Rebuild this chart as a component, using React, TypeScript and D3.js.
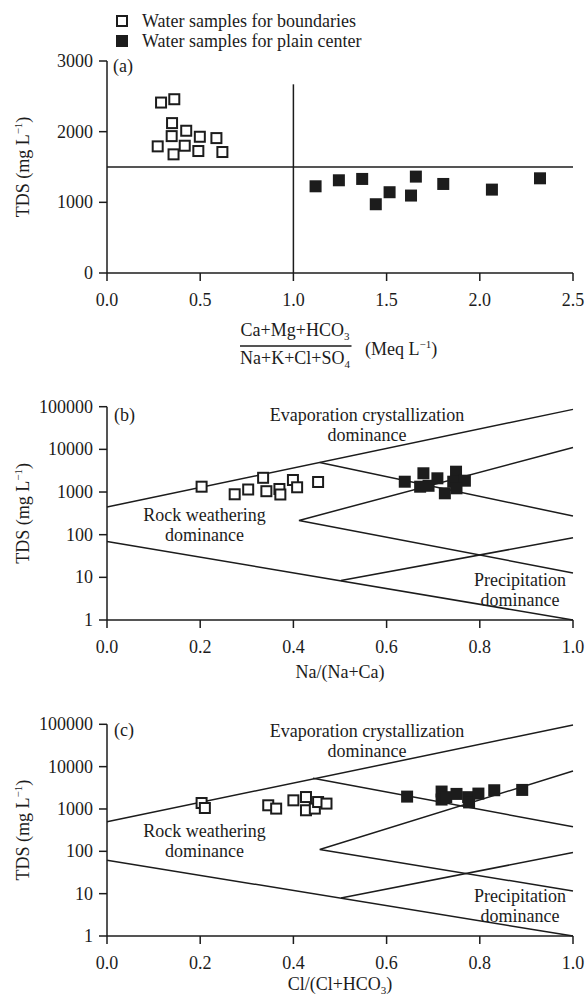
import React from "react";
import * as d3 from "d3";

// ---------- data ----------
const legendLabels = ["Water samples for boundaries", "Water samples for plain center"];

// Panel (a)
const aXTicks = [0, 0.5, 1.0, 1.5, 2.0, 2.5];
const aYTicks = [0, 1000, 2000, 3000];
const aBoundX = [0.29, 0.361, 0.349, 0.425, 0.347, 0.498, 0.587, 0.272, 0.417, 0.357, 0.49, 0.619];
const aBoundY = [2412, 2459, 2121, 2013, 1937, 1928, 1909, 1792, 1801, 1679, 1726, 1712];
const aCenterX = [1.119, 1.244, 1.369, 1.442, 1.516, 1.631, 1.657, 1.804, 2.065, 2.323];
const aCenterY = [1227, 1312, 1331, 973, 1143, 1096, 1364, 1260, 1180, 1340];
const aVertical = [[1.0, 0], [1.0, 2670]];
const aHorizontal = [[0, 1500], [2.5, 1500]];

// Gibbs panels
const logTicks = [1, 10, 100, 1000, 10000, 100000];
const gibbsXTicks = [0, 0.2, 0.4, 0.6, 0.8, 1.0];

// Panel (b)
const bBoundX = [0.203, 0.274, 0.303, 0.335, 0.342, 0.37, 0.372, 0.399, 0.408, 0.453];
const bBoundY = [1333, 885, 1145, 2155, 1045, 1178, 875, 1914, 1291, 1718];
const bCenterX = [0.639, 0.679, 0.672, 0.69, 0.709, 0.725, 0.749, 0.743, 0.768, 0.75];
const bCenterY = [1745, 2750, 1333, 1400, 2096, 933, 2995, 1745, 1843, 1222];
const bLines = [
  [[0, 446], [1, 86500]],
  [[0.4565, 4910], [1, 274]],
  [[1, 11070], [0.412, 216], [1, 12.7]],
  [[0, 69.5], [1, 1]],
  [[0.502, 8.4], [1, 84.7]],
];

// Panel (c)
const cBoundX = [0.203, 0.21, 0.346, 0.363, 0.4, 0.427, 0.427, 0.446, 0.453, 0.471];
const cBoundY = [1383, 1055, 1222, 1021, 1600, 1914, 932, 1021, 1459, 1340];
const cCenterX = [0.644, 0.718, 0.718, 0.728, 0.75, 0.775, 0.777, 0.797, 0.831, 0.891];
const cCenterY = [1960, 2580, 1670, 1900, 2270, 1900, 1430, 2310, 2770, 2820];
const cLines = [
  [[0, 498], [1, 96400]],
  [[0.442, 5300], [1, 379]],
  [[1, 7870], [0.4565, 110], [1, 11.6]],
  [[0, 61.7], [1, 1]],
  [[0.502, 7.9], [1, 93.7]],
];

// ---------- layout ----------
const W = 587;
const H = 997;
const X0 = 107;
const X1 = 573;
const INK = "#1c1c1c";
const FONT = "'Liberation Serif', 'Times New Roman', serif";
const FS = 18;
const SUB = 11;
const SQ = 12;

const xA = d3.scaleLinear().domain([0, 2.5]).range([X0, X1]);
const yA = d3.scaleLinear().domain([0, 3000]).range([273, 61]);
const xG = d3.scaleLinear().domain([0, 1]).range([X0, X1]);
const yB = d3.scaleLog().domain([1, 100000]).range([620, 406.7]);
const yC = d3.scaleLog().domain([1, 100000]).range([936, 724.3]);

const fmt1 = d3.format(".1f");
const fmt0 = d3.format("d");

function Axes({ x, y, xTicks, yTicks, xFmt, yFmt }) {
  const [yb, yt] = y.range();
  return (
    <g stroke={INK} strokeWidth={1.5}>
      <line x1={X0} x2={X0} y1={yt} y2={yb} />
      <line x1={X0} x2={X1} y1={yb} y2={yb} />
      {yTicks.map((t) => (
        <g key={"y" + t}>
          <line x1={X0 - 8} x2={X0} y1={y(t)} y2={y(t)} />
          <text x={X0 - 14} y={y(t) + 6} textAnchor="end" stroke="none" fill={INK} fontSize={FS}>
            {yFmt(t)}
          </text>
        </g>
      ))}
      {xTicks.map((t) => (
        <g key={"x" + t}>
          <line x1={x(t)} x2={x(t)} y1={yb} y2={yb + 8} />
          <text x={x(t)} y={yb + 33} textAnchor="middle" stroke="none" fill={INK} fontSize={FS}>
            {xFmt(t)}
          </text>
        </g>
      ))}
    </g>
  );
}

function YTitle({ y }) {
  const [yb, yt] = y.range();
  const cy = (yb + yt) / 2;
  return (
    <text transform={`translate(28.5,${cy}) rotate(-90)`} textAnchor="middle" fill={INK} fontSize={FS}>
      TDS (mg L
      <tspan fontSize={SUB} dy={-7}>−1</tspan>
      <tspan dy={7}>)</tspan>
    </text>
  );
}

function Points({ xs, ys, x, y, filled }) {
  return (
    <g>
      {xs.map((v, i) =>
        filled ? (
          <rect key={i} x={x(v) - SQ / 2} y={y(ys[i]) - SQ / 2} width={SQ} height={SQ} fill={INK} />
        ) : (
          <rect
            key={i}
            x={x(v) - (SQ - 2) / 2}
            y={y(ys[i]) - (SQ - 2) / 2}
            width={SQ - 2}
            height={SQ - 2}
            fill="#fff"
            stroke={INK}
            strokeWidth={2}
          />
        )
      )}
    </g>
  );
}

function Envelope({ lines, x, y }) {
  const gen = d3
    .line()
    .x((d) => x(d[0]))
    .y((d) => y(d[1]));
  return (
    <g fill="none" stroke={INK} strokeWidth={1.5}>
      {lines.map((l, i) => (
        <path key={i} d={gen(l)} />
      ))}
    </g>
  );
}

function Regions({ top }) {
  return (
    <g fill={INK} fontSize={FS} textAnchor="middle">
      <text x={367} y={top}>Evaporation crystallization</text>
      <text x={367} y={top + 20}>dominance</text>
      <text x={204.5} y={top + 100}>Rock weathering</text>
      <text x={204.5} y={top + 120}>dominance</text>
      <text x={520} y={top + 165}>Precipitation</text>
      <text x={520} y={top + 185}>dominance</text>
    </g>
  );
}

export default function App() {
  return (
    <svg
      width={W}
      height={H}
      viewBox={`0 0 ${W} ${H}`}
      style={{ position: "absolute", left: 0, top: 0, background: "#fff" }}
      fontFamily={FONT}
    >
      {/* legend */}
      <g>
        <rect x={122 - 5} y={21 - 5} width={10} height={10} fill="#fff" stroke={INK} strokeWidth={2} />
        <text x={142} y={27} fill={INK} fontSize={FS}>{legendLabels[0]}</text>
        <rect x={122 - 6} y={41 - 6} width={12} height={12} fill={INK} />
        <text x={142} y={47} fill={INK} fontSize={FS}>{legendLabels[1]}</text>
      </g>

      {/* panel a */}
      <Envelope lines={[aVertical, aHorizontal]} x={xA} y={yA} />
      <Axes x={xA} y={yA} xTicks={aXTicks} yTicks={aYTicks} xFmt={fmt1} yFmt={fmt0} />
      <YTitle y={yA} />
      <text x={113} y={72} fill={INK} fontSize={FS}>(a)</text>
      <Points xs={aBoundX} ys={aBoundY} x={xA} y={yA} filled={false} />
      <Points xs={aCenterX} ys={aCenterY} x={xA} y={yA} filled={true} />
      <g fill={INK} fontSize={FS}>
        <text x={295} y={336} textAnchor="middle">
          Ca+Mg+HCO<tspan fontSize={SUB} dy={4}>3</tspan>
        </text>
        <line x1={240} x2={351.5} y1={346} y2={346} stroke={INK} strokeWidth={1.3} />
        <text x={295} y={363.5} textAnchor="middle">
          Na+K+Cl+SO<tspan fontSize={SUB} dy={4}>4</tspan>
        </text>
        <text x={365} y={355}>
          (Meq L<tspan fontSize={SUB} dy={-7}>−1</tspan>
          <tspan dy={7}>)</tspan>
        </text>
      </g>

      {/* panel b */}
      <Envelope lines={bLines} x={xG} y={yB} />
      <Axes x={xG} y={yB} xTicks={gibbsXTicks} yTicks={logTicks} xFmt={fmt1} yFmt={fmt0} />
      <YTitle y={yB} />
      <text x={114} y={421} fill={INK} fontSize={FS}>(b)</text>
      <Regions top={421} />
      <Points xs={bBoundX} ys={bBoundY} x={xG} y={yB} filled={false} />
      <Points xs={bCenterX} ys={bCenterY} x={xG} y={yB} filled={true} />
      <text x={340} y={678} textAnchor="middle" fill={INK} fontSize={FS}>Na/(Na+Ca)</text>

      {/* panel c */}
      <Envelope lines={cLines} x={xG} y={yC} />
      <Axes x={xG} y={yC} xTicks={gibbsXTicks} yTicks={logTicks} xFmt={fmt1} yFmt={fmt0} />
      <YTitle y={yC} />
      <text x={114} y={736} fill={INK} fontSize={FS}>(c)</text>
      <Regions top={737} />
      <Points xs={cBoundX} ys={cBoundY} x={xG} y={yC} filled={false} />
      <Points xs={cCenterX} ys={cCenterY} x={xG} y={yC} filled={true} />
      <text x={340} y={990} textAnchor="middle" fill={INK} fontSize={FS}>
        Cl/(Cl+HCO<tspan fontSize={SUB} dy={4}>3</tspan>
        <tspan dy={-4}>)</tspan>
      </text>
    </svg>
  );
}
